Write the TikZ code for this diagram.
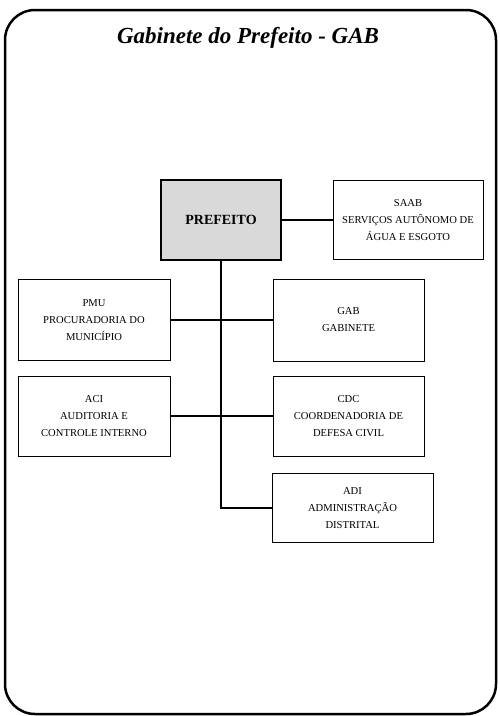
\documentclass[tikz,border=0pt]{standalone}
\usepackage{fontspec}
\setmainfont{Liberation Serif}
\usepackage{tikz}

\begin{document}
\begin{tikzpicture}[x=1pt, y=-1pt, font=\fontsize{10.6}{17}\selectfont,
box/.style={rectangle, draw, line width=1pt, align=center, inner sep=2pt},
chief/.style={rectangle, draw, line width=1.4pt, fill=gray!30, inner sep=2pt,
      font=\fontsize{14}{16}\selectfont\bfseries},
link/.style={line width=1.1pt},
frame/.style={draw, line width=2.5pt, rounded corners=30pt},]
 \useasboundingbox (0,0) rectangle (499,716);
 \draw[frame] (5,10) rectangle (496,714);
 \node[font=\fontsize{23}{25}\selectfont\bfseries\itshape] (title) at (248,38) {Gabinete do Prefeito - GAB};

 \node[chief, minimum width=120pt, minimum height=80pt] (prefeito) at (221,220) {PREFEITO};
 \node[box, minimum width=150pt, minimum height=79pt] (saab) at (408,220) {SAAB\\SERVIÇOS AUTÔNOMO DE\\ÁGUA E ESGOTO};
 \node[box, minimum width=152pt, minimum height=81pt] (pmu) at (94,320) {PMU\\PROCURADORIA DO\\MUNICÍPIO};
 \node[box, minimum width=151pt, minimum height=82pt] (gab) at (348.5,320) {GAB\\GABINETE};
 \node[box, minimum width=152pt, minimum height=80pt] (aci) at (94,416) {ACI\\AUDITORIA E\\CONTROLE INTERNO};
 \node[box, minimum width=151pt, minimum height=80pt] (cdc) at (348.5,416) {CDC\\COORDENADORIA DE\\DEFESA CIVIL};
 \node[box, minimum width=161pt, minimum height=69pt] (adi) at (352.5,508) {ADI\\ADMINISTRAÇÃO\\DISTRITAL};

 \draw[link] (prefeito.east) -- (saab.west);
 \draw[link] (prefeito.south) |- (adi.west);
 \draw[link] (pmu.east) -- (gab.west);
 \draw[link] (aci.east) -- (cdc.west);
\end{tikzpicture}
\end{document}
